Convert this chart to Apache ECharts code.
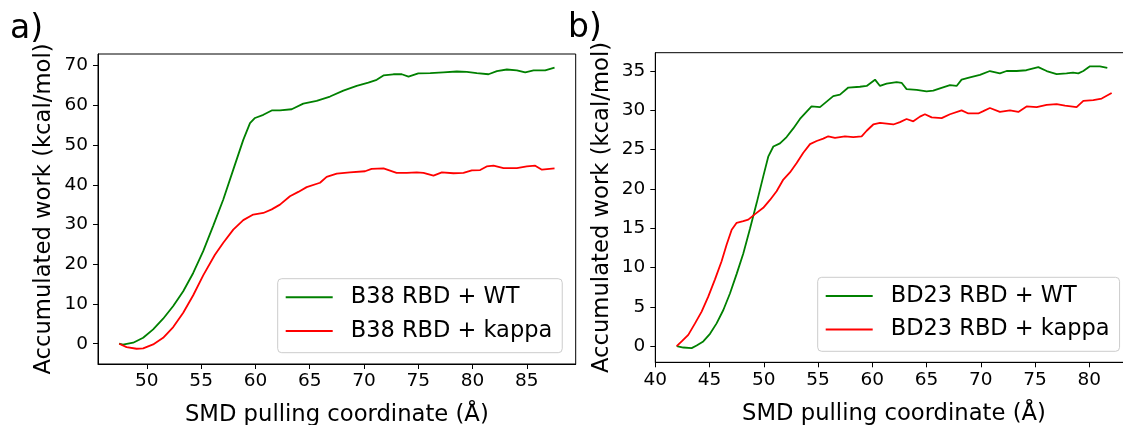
<!DOCTYPE html>
<html>
<head>
<meta charset="utf-8">
<script src="https://cdn.jsdelivr.net/npm/echarts@6/dist/echarts.min.js"></script>
<style>
html,body{margin:0;padding:0;background:#fff;}
#chart{width:1123px;height:425px;}
</style>
</head>
<body>
<div id="chart"></div>
<script>
// ---- Data ----
const seriesNames = ['B38 RBD + WT', 'B38 RBD + kappa', 'BD23 RBD + WT', 'BD23 RBD + kappa'];
const panelLabels = ['a)', 'b)'];
const xAxisTitle = 'SMD pulling coordinate (Å)';
const yAxisTitle = 'Accumulated work (kcal/mol)';

const leftXTicks = [50, 55, 60, 65, 70, 75, 80, 85];
const leftYTicks = [0, 10, 20, 30, 40, 50, 60, 70];
const rightXTicks = [40, 45, 50, 55, 60, 65, 70, 75, 80];
const rightYTicks = [0, 5, 10, 15, 20, 25, 30, 35];

// a) B38 RBD + WT
const b38WtX = [47.45,47.8,48.74,49.66,50.58,51.5,52.43,53.35,54.27,55.19,56.1,57.04,57.96,58.88,59.5,59.96,60.73,61.5,62.26,63.34,64.41,65.64,66.87,68.1,69.33,70.4,71.17,71.79,72.71,73.48,74.1,75.0,76.1,77.3,78.55,79.47,80.39,81.47,82.24,83.16,84.08,84.85,85.62,86.69,87.55];
const b38WtY = [0,-0.2,0.25,1.5,3.6,6.3,9.5,13.2,17.8,23.3,29.6,36.3,43.8,51.3,55.5,56.8,57.6,58.7,58.7,59.0,60.4,61.1,62.2,63.7,64.9,65.7,66.4,67.5,67.8,67.8,67.2,68.0,68.1,68.3,68.5,68.4,68.1,67.8,68.6,69.0,68.8,68.3,68.8,68.8,69.5];
// a) B38 RBD + kappa
const b38KaX = [47.45,48.13,49.05,49.66,50.58,51.5,52.43,53.35,54.27,55.19,56.27,57.04,57.96,58.88,59.8,60.73,61.5,62.26,63.18,63.95,64.72,65.95,66.56,67.49,68.7,70.1,70.7,71.8,73.0,73.94,74.86,75.48,76.4,77.17,78.24,79.16,79.93,80.7,81.3,81.93,82.85,84.08,85.0,85.77,86.39,87.55];
const b38KaY = [0,-0.84,-1.26,-1.17,-0.17,1.5,4.2,7.8,12.2,17.2,22.4,25.4,28.7,31.1,32.5,32.9,33.8,35.0,37.1,38.2,39.4,40.5,42.0,42.8,43.1,43.4,44.0,44.1,43.0,43.0,43.1,43.0,42.3,43.1,42.9,43.0,43.6,43.7,44.6,44.8,44.2,44.2,44.6,44.8,43.8,44.1];
// b) BD23 RBD + WT
const bd23WtX = [41.97,42.58,43.35,43.81,44.42,45.04,45.65,46.27,46.88,47.5,48.11,48.72,49.34,49.95,50.41,50.88,51.49,52.1,52.72,53.33,53.8,54.4,55.18,55.79,56.4,57.02,57.79,58.86,59.48,60.25,60.71,61.32,62.24,62.7,63.16,64.09,65.0,65.62,66.24,67.16,67.77,68.23,69.0,69.92,70.84,71.76,72.38,73.3,74.2,75.3,76.07,76.99,77.9,78.5,78.99,79.45,80.06,80.98,81.66];
const bd23WtY = [0,-0.17,-0.25,0.08,0.6,1.57,2.9,4.6,6.7,9.2,11.8,14.9,18.2,21.6,24.1,25.4,25.8,26.6,27.7,28.9,29.6,30.5,30.4,31.1,31.8,32.0,32.9,33.0,33.1,33.9,33.1,33.4,33.6,33.5,32.7,32.6,32.4,32.5,32.8,33.2,33.1,33.9,34.2,34.5,35.0,34.7,35.0,35.0,35.1,35.5,35.0,34.6,34.7,34.8,34.7,35.0,35.6,35.6,35.4];
// b) BD23 RBD + kappa
const bd23KaX = [41.97,42.43,43.04,43.66,44.27,44.88,45.5,46.11,46.57,47.04,47.5,48.11,48.57,49.19,49.95,50.57,51.18,51.8,52.41,53.03,53.64,54.26,54.87,55.48,55.94,56.56,57.48,58.25,59.02,59.48,60.09,60.71,61.94,62.55,63.16,63.78,64.39,64.85,65.47,66.39,67.16,68.23,68.85,69.77,70.23,70.84,71.76,72.69,73.46,74.22,75.15,76.07,76.99,77.76,78.83,79.45,80.37,81.14,82.06];
const bd23KaY = [0,0.6,1.44,2.9,4.4,6.3,8.5,10.8,12.9,14.8,15.7,15.9,16.1,16.8,17.6,18.6,19.7,21.2,22.1,23.3,24.6,25.7,26.1,26.4,26.7,26.5,26.7,26.6,26.7,27.4,28.2,28.4,28.2,28.5,28.9,28.6,29.2,29.5,29.1,29.0,29.5,30.0,29.6,29.6,29.9,30.3,29.8,30.0,29.8,30.5,30.4,30.7,30.8,30.6,30.4,31.2,31.3,31.5,32.2];

// ---- Build chart ----
const pair = (xs, ys) => xs.map((x, i) => [x, ys[i]]);
const FONT = 'DejaVu Sans';
const GREEN = '#008000', RED = '#ff0000';

function xAxisCfg(gi, min, max, ticks) {
  return {
    type: 'value', gridIndex: gi, min: min, max: max,
    name: xAxisTitle, nameLocation: 'middle', nameGap: 40,
    nameTextStyle: {fontFamily: FONT, fontSize: 22.7, color: '#000'},
    axisLine: {show: true, onZero: false, lineStyle: {color: '#000', width: 1}},
    axisTick: {show: true, length: 5, lineStyle: {color: '#000', width: 1}, customValues: ticks},
    axisLabel: {fontFamily: FONT, fontSize: 18.5, color: '#000', margin: 8, customValues: ticks},
    splitLine: {show: false}
  };
}
function yAxisCfg(gi, min, max, ticks) {
  return {
    type: 'value', gridIndex: gi, min: min, max: max,
    name: yAxisTitle, nameLocation: 'middle', nameGap: 42, nameRotate: 90,
    nameTextStyle: {fontFamily: FONT, fontSize: 22.7, color: '#000'},
    axisLine: {show: true, onZero: false, lineStyle: {color: '#000', width: 1}},
    axisTick: {show: true, length: 5, lineStyle: {color: '#000', width: 1}, customValues: ticks},
    axisLabel: {fontFamily: FONT, fontSize: 18.5, color: '#000', margin: 10, customValues: ticks},
    splitLine: {show: false}
  };
}
function legendCfg(names, left, top) {
  return {
    data: names, orient: 'vertical', left: left, top: top,
    icon: 'rect', itemWidth: 47, itemHeight: 2, itemGap: 7.7,
    padding: [5.6, 10, 8.7, 8],
    backgroundColor: 'rgba(255,255,255,0.8)', borderColor: '#cccccc', borderWidth: 1, borderRadius: 4,
    textStyle: {fontFamily: FONT, fontSize: 22.5, color: '#000', lineHeight: 26, padding: [0, 0, 0, 13]}
  };
}
function lineSeries(name, data, color, gi) {
  return {
    type: 'line', name: name, data: data, xAxisIndex: gi, yAxisIndex: gi,
    symbol: 'none', showSymbol: false, smooth: false, animation: false,
    lineStyle: {color: color, width: 1.8}, itemStyle: {color: color}, z: 3
  };
}

const chart = echarts.init(document.getElementById('chart'), null, {renderer: 'canvas'});
chart.setOption({
  animation: false,
  backgroundColor: '#fff',
  grid: [
    {left: 98, top: 54, width: 477.7, height: 310, show: true, borderColor: '#000', borderWidth: 1, backgroundColor: 'transparent', outerBoundsMode: 'none'},
    {left: 655.3, top: 52.7, width: 477.4, height: 309.6, show: true, borderColor: '#000', borderWidth: 1, backgroundColor: 'transparent', outerBoundsMode: 'none'}
  ],
  xAxis: [xAxisCfg(0, 45.5, 89.5, leftXTicks), xAxisCfg(1, 40, 84, rightXTicks)],
  yAxis: [yAxisCfg(0, -5.1, 72.9, leftYTicks), yAxisCfg(1, -2.05, 37.33, rightYTicks)],
  legend: [
    legendCfg([seriesNames[0], seriesNames[1]], 277.7, 278.7),
    legendCfg([seriesNames[2], seriesNames[3]], 817.7, 277.3)
  ],
  graphic: [
    {type: 'text', left: 10, top: 13, style: {text: panelLabels[0], font: '33px "DejaVu Sans"', fill: '#000'}},
    {type: 'text', left: 568, top: 12, style: {text: panelLabels[1], font: '33px "DejaVu Sans"', fill: '#000'}}
  ],
  series: [
    lineSeries(seriesNames[0], pair(b38WtX, b38WtY), GREEN, 0),
    lineSeries(seriesNames[1], pair(b38KaX, b38KaY), RED, 0),
    lineSeries(seriesNames[2], pair(bd23WtX, bd23WtY), GREEN, 1),
    lineSeries(seriesNames[3], pair(bd23KaX, bd23KaY), RED, 1)
  ]
});
</script>
</body>
</html>
